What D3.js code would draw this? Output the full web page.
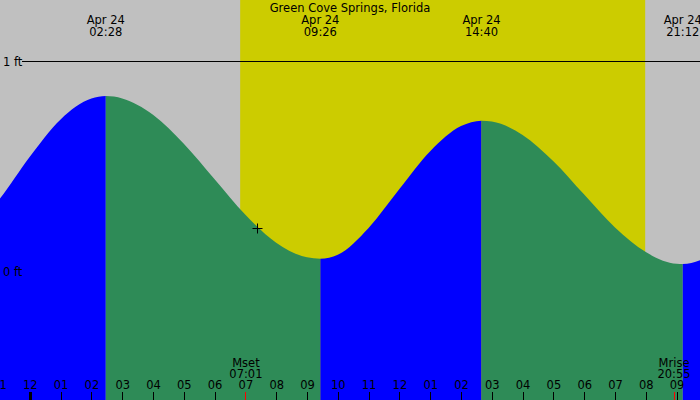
<!DOCTYPE html>
<html><head><meta charset="utf-8">
<script src="https://cdn.jsdelivr.net/npm/d3@7"></script>
<style>html,body{margin:0;padding:0;background:#fff;}svg{display:block;}text{font-family:"DejaVu Sans",sans-serif;font-size:11.5px;fill:#000;}</style>
</head><body>
<svg id="c" width="700" height="400"></svg>
<script>
// ---- data (hours from midnight, Apr 24) ----
const title = "Green Cove Springs, Florida";
const extremeTimes = [-3.47, 2.467, 9.433, 14.667, 21.2, 27.4];
const extremeHeights = [0.05, 0.833, 0.058, 0.716, 0.033, 0.80];
const extremeLabels = ["", "02:28", "09:26", "14:40", "21:12", ""];
const extremeDates = ["", "Apr 24", "Apr 24", "Apr 24", "Apr 24", ""];
const sampleTimes = [-1, 0, 1, 2, 3, 4, 5, 6, 7, 8, 9, 10, 11, 12, 13, 14, 15, 16, 17, 18, 19, 20, 21, 22];
const sampleHeights = [0.339, 0.544, 0.722, 0.821, 0.822, 0.744, 0.606, 0.437, 0.268, 0.135, 0.065, 0.077, 0.205, 0.39, 0.57, 0.69, 0.712, 0.648, 0.523, 0.364, 0.207, 0.09, 0.034, 0.064];
const hourTicks = [-1, 0, 1, 2, 3, 4, 5, 6, 7, 8, 9, 10, 11, 12, 13, 14, 15, 16, 17, 18, 19, 20, 21, 22];
const hourLabels = ["11","12","01","02","03","04","05","06","07","08","09","10","11","12","01","02","03","04","05","06","07","08","09","10"];
const sunrise = 6.83, sunset = 19.98;
const moonTimes = [7.017, 20.917];
const moonNames = ["Mset", "Mrise"];
const moonLabels = ["07:01", "20:55"];
const levelTicks = [0, 1];
const levelLabels = ["0 ft", "1 ft"];
const nowTime = 7.38, nowHeight = 0.205;

// ---- drawing ----
const W = 700, H = 400;
const svg = d3.select("#c");
const x = d3.scaleLinear().domain([0, 24]).range([29.8, 29.8 + 24 * 30.8]);
const y = d3.scaleLinear().domain([0, 1]).range([271, 61]);

svg.append("rect").attr("width", W).attr("height", H).attr("fill", "#c0c0c0");
svg.append("rect").attr("x", x(sunrise)).attr("y", 0)
  .attr("width", x(sunset) - x(sunrise)).attr("height", H).attr("fill", "#cccc00");

// combine samples and extremes
const pts = sampleTimes.map((t, i) => [t, sampleHeights[i]])
  .concat(extremeTimes.map((t, i) => [t, extremeHeights[i]]))
  .sort((a, b) => a[0] - b[0]);

const area = d3.area().x(d => x(d[0])).y0(H).y1(d => y(d[1])).curve(d3.curveMonotoneX);
const defs = svg.append("defs");
for (let i = 0; i < extremeTimes.length - 1; i++) {
  const rising = extremeHeights[i + 1] > extremeHeights[i];
  const id = "seg" + i;
  defs.append("clipPath").attr("id", id).append("rect")
    .attr("x", x(extremeTimes[i])).attr("y", 0)
    .attr("width", x(extremeTimes[i + 1]) - x(extremeTimes[i])).attr("height", H);
  svg.append("path").datum(pts).attr("d", area)
    .attr("fill", rising ? "#0000ff" : "#2e8b57")
    .attr("clip-path", `url(#${id})`);
}

// level lines
levelTicks.forEach((v, i) => {
  if (v === 1) svg.append("line").attr("x1", 22).attr("x2", W)
    .attr("y1", y(v)).attr("y2", y(v)).attr("stroke", "#000").attr("stroke-width", 1)
    .attr("shape-rendering", "crispEdges");
  svg.append("text").attr("x", 3).attr("y", y(v) + 4.5).text(levelLabels[i]);
});

// title
svg.append("text").attr("x", W / 2).attr("y", 12).attr("text-anchor", "middle").text(title);

// extreme labels
extremeTimes.forEach((t, i) => {
  if (!extremeLabels[i]) return;
  svg.append("text").attr("x", x(t)).attr("y", 23.5).attr("text-anchor", "middle").text(extremeDates[i]);
  svg.append("text").attr("x", x(t)).attr("y", 36).attr("text-anchor", "middle").text(extremeLabels[i]);
});

// hour axis
const axis = d3.axisBottom(x).tickValues(hourTicks).tickSize(8)
  .tickFormat((d, i) => hourLabels[i]);
const g = svg.append("g").attr("transform", `translate(0,${H - 8})`).call(axis);
g.select(".domain").remove();
g.selectAll(".tick line").attr("y1", 0).attr("y2", 8).attr("stroke", "#000")
  .attr("stroke-width", d => d === 0 ? 3 : 1).attr("shape-rendering", "crispEdges");
g.selectAll(".tick text").attr("y", -3).attr("dy", 0)
  .style("font-family", "DejaVu Sans").style("font-size", "11.5px").attr("fill", "#000");

// moon events
moonTimes.forEach((t, i) => {
  svg.append("line").attr("x1", x(t)).attr("x2", x(t)).attr("y1", H - 8).attr("y2", H)
    .attr("stroke", "#ff0000").attr("stroke-width", 1).attr("shape-rendering", "crispEdges");
  svg.append("text").attr("x", x(t)).attr("y", 366.5).attr("text-anchor", "middle").text(moonNames[i]);
  svg.append("text").attr("x", x(t)).attr("y", 377.5).attr("text-anchor", "middle").text(moonLabels[i]);
});

// current time marker
const cx = Math.round(x(nowTime)) + 0.5, cy = Math.round(y(nowHeight)) + 0.5;
svg.append("path").attr("d", `M${cx - 5},${cy}H${cx + 5}M${cx},${cy - 5}V${cy + 5}`)
  .attr("stroke", "#000").attr("stroke-width", 1);
</script>
</body></html>
